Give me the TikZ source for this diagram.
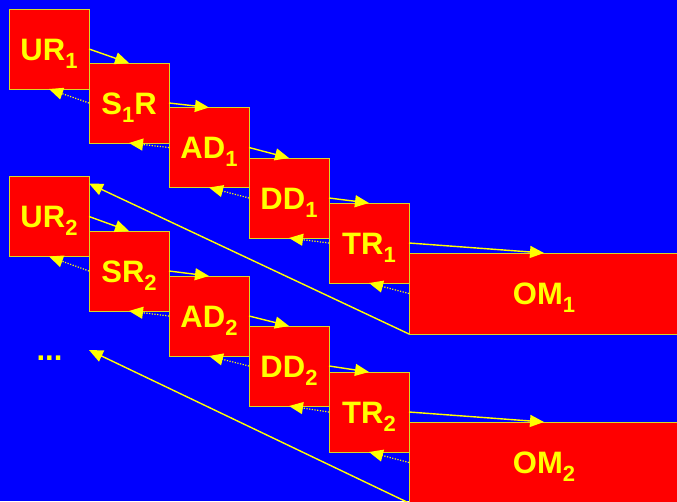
\documentclass[tikz,border=0pt]{standalone}
\usepackage{fontspec}
\setmainfont{Liberation Sans}
\usetikzlibrary{arrows.meta,calc}
\definecolor{bgblue}{RGB}{0,0,255}
\definecolor{boxred}{RGB}{255,0,0}
\definecolor{txtyellow}{RGB}{255,255,0}
\definecolor{edgeyellow}{RGB}{215,215,40}
\newcommand{\lowidx}[1]{\raisebox{-8pt}{\fontsize{22}{22}\selectfont #1}}
\begin{document}
\begin{tikzpicture}[x=1pt,y=-1pt,
  stagebox/.style={draw=edgeyellow, line width=1pt, fill=boxred, text=txtyellow,
    minimum width=80pt, minimum height=80pt, inner sep=0pt, outer sep=0pt,
    font=\fontsize{31}{31}\selectfont\bfseries, text height=22pt, text depth=0pt},
  ombox/.style={stagebox, minimum width=270pt, minimum height=81pt},
  fwd/.style={draw=txtyellow, line width=1.4pt, -{Triangle[length=14pt,width=12pt]}},
  bwd/.style={draw=txtyellow, line width=1.2pt, dash pattern=on 1.2pt off 1.5pt,
    -{Triangle[length=14pt,width=12pt]}},
  back/.style={draw=txtyellow, line width=1.4pt, -{Triangle[length=14pt,width=12pt]}}
]
\fill[bgblue] (0,0) rectangle (677,501);
\useasboundingbox (0,0) rectangle (677,501);

% row 1
\node[stagebox] (UR1) at (49,49) {UR\lowidx{1}};
\node[stagebox] (SR1) at (129,103) {S\lowidx{1}R};
\node[stagebox] (AD1) at (209,147.5) {AD\lowidx{1}};
\node[stagebox] (DD1) at (289,198) {DD\lowidx{1}};
\node[stagebox] (TR1) at (369,243) {TR\lowidx{1}};
\node[ombox, anchor=north west] (OM1) at (409,253) {OM\lowidx{1}};

% row 2
\node[stagebox] (UR2) at (49,216.5) {UR\lowidx{2}};
\node[stagebox] (SR2) at (129,271) {SR\lowidx{2}};
\node[stagebox] (AD2) at (209,316) {AD\lowidx{2}};
\node[stagebox] (DD2) at (289,366) {DD\lowidx{2}};
\node[stagebox] (TR2) at (369,412) {TR\lowidx{2}};
\node[ombox, anchor=north west] (OM2) at (409,422) {OM\lowidx{2}};

% more
\node[text=txtyellow, font=\fontsize{31}{31}\selectfont\bfseries, inner sep=0pt, anchor=base] (more) at (49.5,360) {...};
\coordinate (UR2in) at ($(UR2.north east)+(0,7)$);
\coordinate (morein) at (89,350);

% forward arrows
\foreach \a/\b in {UR1/SR1, SR1/AD1, AD1/DD1, DD1/TR1, TR1/OM1,
                   UR2/SR2, SR2/AD2, AD2/DD2, DD2/TR2, TR2/OM2}
  \draw[fwd] (\a.east) -- (\b.north);
% backward dotted arrows
\foreach \a/\b in {UR1/SR1, SR1/AD1, AD1/DD1, DD1/TR1, TR1/OM1,
                   UR2/SR2, SR2/AD2, AD2/DD2, DD2/TR2, TR2/OM2}
  \draw[bwd] (\b.west) -- (\a.south);

% long return arrows
\draw[back] (OM1.south west) -- (UR2in);
\draw[back] (OM2.south west) -- (morein);
\end{tikzpicture}
\end{document}
